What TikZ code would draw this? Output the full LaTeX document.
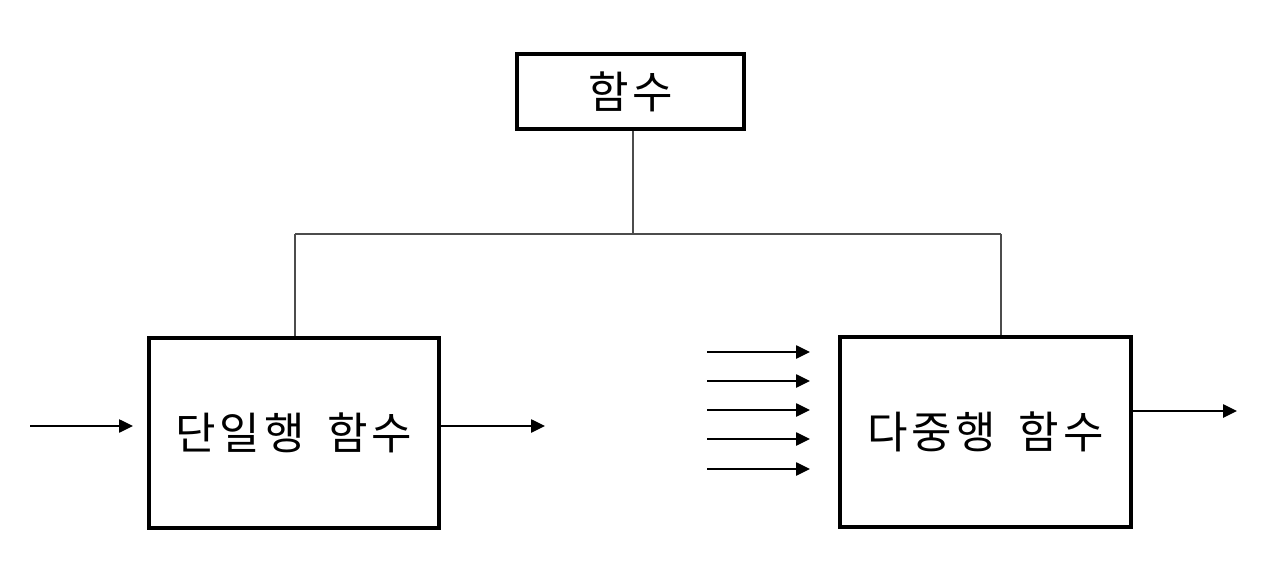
\documentclass[tikz,border=0pt]{standalone}
\usepackage{fontspec}
\setmainfont{Noto Sans CJK KR}
\newfontfamily\boxfont[LetterSpace=9]{Noto Sans CJK KR}
\usetikzlibrary{arrows.meta}
\begin{document}
\begin{tikzpicture}[x=0.75pt,y=-0.75pt,
  box/.style={draw=black,line width=3pt,fill=white,inner sep=0pt,font=\boxfont\fontsize{33}{36}\selectfont},
  conn/.style={draw=black!70,line width=1.4pt},
  arr/.style={draw=black,line width=1.1pt,-{Triangle[length=10.5pt,width=10pt]}}]
\useasboundingbox (0,0) rectangle (1280,570);
\node[box,minimum width=170pt,minimum height=56pt] (top) at (630.5,91.5) {함수};
\node[box,minimum width=217.5pt,minimum height=142.5pt] (left) at (294,433) {단일행 \hspace{0.2em}함수};
\node[box,minimum width=218pt,minimum height=142.5pt] (right) at (985.5,431.5) {다중행 \hspace{0.2em}함수};
\coordinate (bus) at (633,234);
\coordinate (jl) at (295,234);
\coordinate (jr) at (1001,234);
\draw[conn] (top.south -| bus) -- (bus);
\draw[conn] (jl) -- (jr);
\draw[conn] (jl) -- (jl |- left.north);
\draw[conn] (jr) -- (jr |- right.north);
% single-row inputs/outputs
\coordinate (li0) at (30,426);
\coordinate (li1) at (133,426);
\draw[arr] (li0) -- (li1);
\coordinate (lo1) at (545,426);
\draw[arr] (left.east |- lo1) -- (lo1);
% multi-row inputs
\foreach \yy [count=\i] in {352,381,410,439,469}{
  \coordinate (ri\i a) at (707,\yy);
  \coordinate (ri\i b) at (810,\yy);
  \draw[arr] (ri\i a) -- (ri\i b);
}
\coordinate (ro1) at (1237,411);
\draw[arr] (right.east |- ro1) -- (ro1);
\end{tikzpicture}
\end{document}
